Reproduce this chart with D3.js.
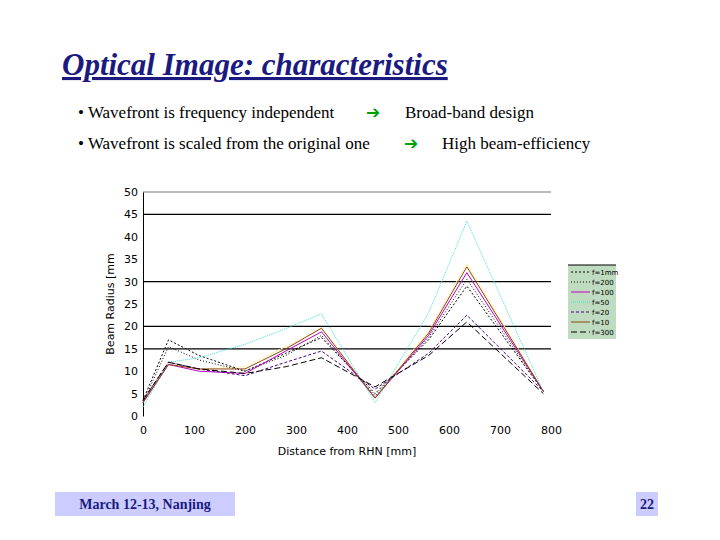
<!DOCTYPE html>
<html><head><meta charset="utf-8">
<script src="https://cdn.jsdelivr.net/npm/d3@7"></script>
<style>body{margin:0;background:#fff}</style></head>
<body><svg id="c" width="720" height="540"></svg>
<script>
const xs = [0, 50, 110, 200, 280, 350, 455, 560, 635, 785];
const seriesNames = ["f=1mm", "f=200", "f=100", "f=50", "f=20", "f=10", "f=300"];
const seriesColors = ["#000", "#000", "#c000c0", "#40e0d0", "#4b0082", "#8b4513", "#000"];
const seriesDash = ["2,2", "1,2", "none", "1,1", "3,2", "none", "6,3"];
const seriesValues = [
  [3.5, 17, 13.5, 10, 14, 17.5, 5, 17, 29, 5.5],
  [3, 15.5, 12.5, 10, 13.5, 18, 4.5, 17.5, 30.5, 5.5],
  [3, 11.5, 10, 9.5, 14.5, 18.8, 4, 18, 32, 5.5],
  [2, 12, 13, 16, 19.5, 22.8, 3, 23, 43.5, 5.5],
  [3.5, 12, 10.5, 9, 12, 14.5, 6, 14, 22.5, 5.5],
  [3, 11.5, 10.5, 10.5, 15, 19.6, 4, 18.5, 33.3, 5.5],
  [3.5, 12, 10.5, 9.5, 11, 13, 6.5, 13.5, 21, 5]
];
const extraYellow = [3, 12, 10.5, 11, 15.5, 19.6, 4, 19, 34, 5.5];
const yTicks = [0,5,10,15,20,25,30,35,40,45,50];
const gridVals = [45, 30, 20, 15];
const xTicks = [0,100,200,300,400,500,600,700,800];

const svg = d3.select("#c");
svg.append("text").attr("x",62).attr("y",75).attr("font-family","Liberation Serif")
  .attr("font-size",31).attr("font-weight","bold").attr("font-style","italic")
  .attr("fill","#1a1a80").attr("text-decoration","underline").text("Optical Image: characteristics");
const bullets = [["• Wavefront is frequency independent","Broad-band design",366,405,118],
                 ["• Wavefront is scaled from the original one","High beam-efficiency",404,442,149]];
bullets.forEach(b=>{
  svg.append("text").attr("x",78).attr("y",b[4]).attr("font-family","Liberation Serif").attr("font-size",17).text(b[0]);
  svg.append("text").attr("x",b[2]).attr("y",b[4]).attr("font-family","DejaVu Sans").attr("font-size",17).attr("fill","#00a000").text("➔");
  svg.append("text").attr("x",b[3]).attr("y",b[4]).attr("font-family","Liberation Serif").attr("font-size",17).text(b[1]);
});

const x = d3.scaleLinear().domain([0,800]).range([143,551]);
const y = d3.scaleLinear().domain([0,50]).range([416,192]);
svg.append("line").attr("x1",143).attr("x2",551).attr("y1",y(50)).attr("y2",y(50)).attr("stroke","#777");
gridVals.forEach(v=>svg.append("line").attr("x1",143).attr("x2",551).attr("y1",y(v)).attr("y2",y(v)).attr("stroke","#000").attr("stroke-width",1.3));
const yAx = svg.append("g").attr("transform","translate(143,0)").call(d3.axisLeft(y).tickValues(yTicks).tickSize(0).tickPadding(5));
yAx.select(".domain").attr("stroke","#000");
yAx.selectAll("text").attr("font-family","DejaVu Sans").attr("font-size",11);
const xAx = svg.append("g").attr("transform","translate(0,416)").call(d3.axisBottom(x).tickValues(xTicks).tickSize(0).tickPadding(10));
xAx.select(".domain").remove();
xAx.selectAll("text").attr("font-family","DejaVu Sans").attr("font-size",11);
svg.append("text").attr("x",347).attr("y",455).attr("text-anchor","middle").attr("font-family","DejaVu Sans").attr("font-size",11).text("Distance from RHN [mm]");
svg.append("text").attr("transform","translate(114,304) rotate(-90)").attr("text-anchor","middle").attr("font-family","DejaVu Sans").attr("font-size",11).text("Beam Radius [mm");

const line = d3.line().x((d,i)=>x(xs[i])).y(d=>y(d));
svg.append("path").attr("d",line(extraYellow)).attr("fill","none").attr("stroke","#fff0a0").attr("stroke-width",1.2).attr("stroke-dasharray","2,1");
seriesValues.forEach((s,i)=>{
  svg.append("path").attr("d",line(s)).attr("fill","none").attr("stroke",seriesColors[i])
    .attr("stroke-width",1).attr("stroke-dasharray",seriesDash[i]);
});

const lg = svg.append("g").attr("transform","translate(568,265)");
lg.append("rect").attr("width",48).attr("height",74).attr("fill","#c0dcc0");
lg.append("line").attr("x1",0).attr("x2",48).attr("y1",0).attr("y2",0).attr("stroke","#000");
seriesNames.forEach((n,i)=>{
  const yy = 7+i*10;
  lg.append("line").attr("x1",3).attr("x2",22).attr("y1",yy).attr("y2",yy).attr("stroke",seriesColors[i]).attr("stroke-dasharray",seriesDash[i]);
  lg.append("text").attr("x",24).attr("y",yy+3).attr("font-family","DejaVu Sans").attr("font-size",7).text(n);
});

svg.append("rect").attr("x",55).attr("y",492).attr("width",180).attr("height",24).attr("fill","#ccccff");
svg.append("text").attr("x",145).attr("y",509).attr("text-anchor","middle").attr("font-family","Liberation Serif").attr("font-size",14).attr("font-weight","bold").attr("fill","#1a1a80").text("March 12-13, Nanjing");
svg.append("rect").attr("x",636).attr("y",492).attr("width",22).attr("height",24).attr("fill","#ccccff");
svg.append("text").attr("x",647).attr("y",509).attr("text-anchor","middle").attr("font-family","Liberation Serif").attr("font-size",14).attr("font-weight","bold").attr("fill","#1a1a80").text("22");
</script></body></html>
